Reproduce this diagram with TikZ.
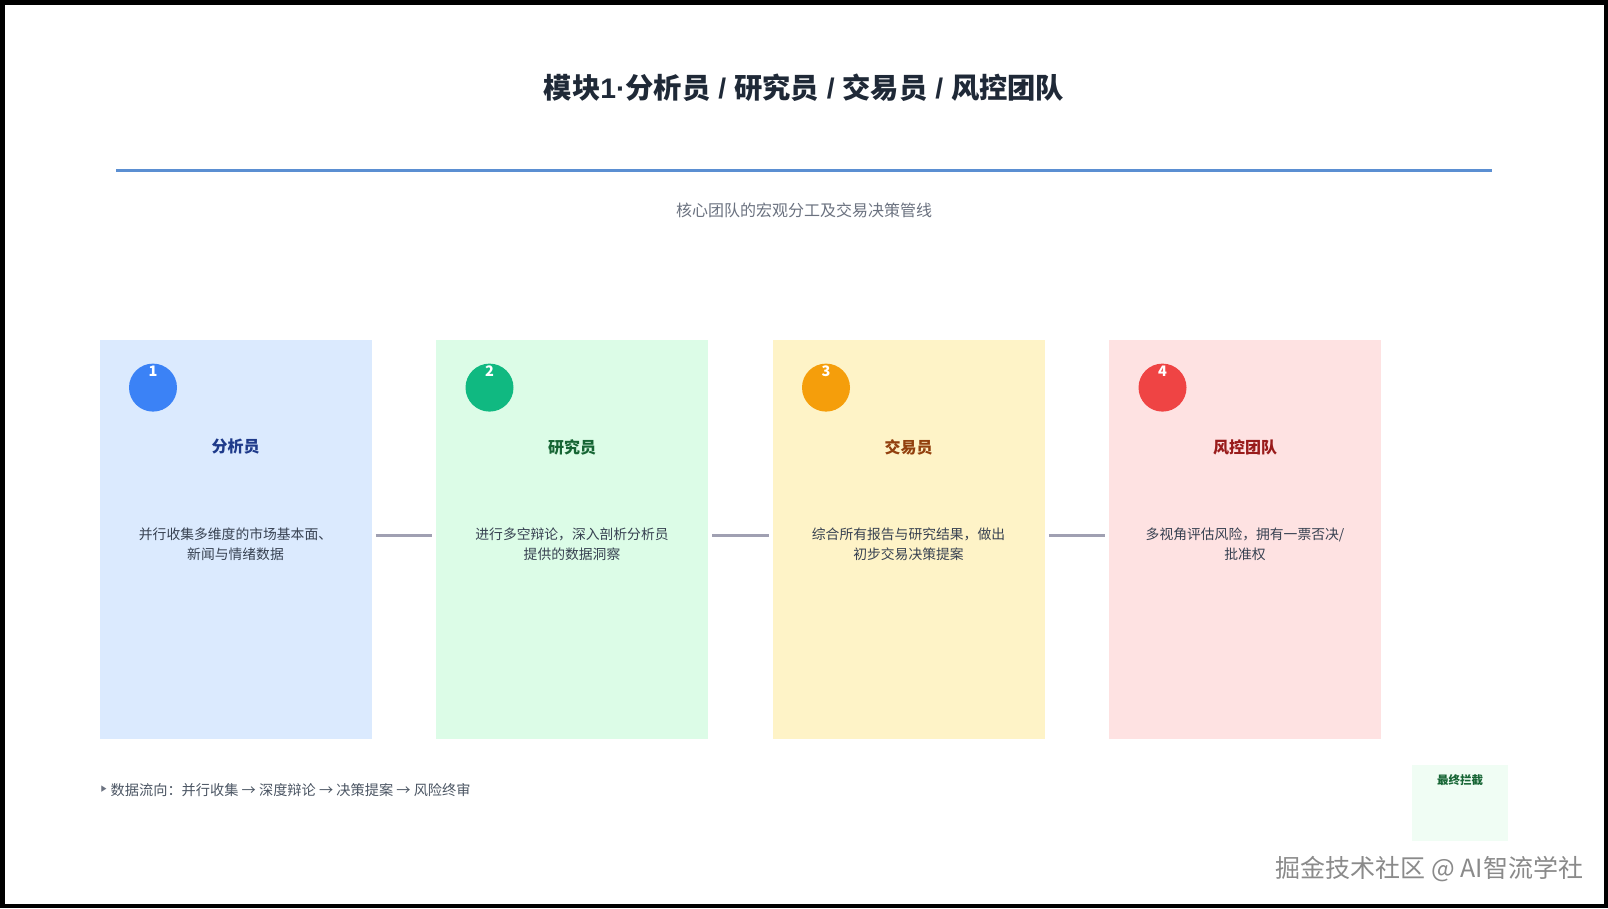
\documentclass[tikz,border=0pt]{standalone}
\usepackage{fontspec}
\setmainfont{Noto Sans CJK SC}
\newfontfamily\symfont{DejaVu Sans}
\newfontfamily\latinfont{Liberation Sans}
\definecolor{titlecol}{HTML}{1F2937}
\definecolor{rulecol}{HTML}{5B8FD2}
\definecolor{subcol}{HTML}{6B7280}
\definecolor{desccol}{HTML}{374151}
\definecolor{conncol}{HTML}{A0A0B2}
\definecolor{cardA}{HTML}{DBEAFE}
\definecolor{cardB}{HTML}{DCFCE7}
\definecolor{cardC}{HTML}{FEF3C7}
\definecolor{cardD}{HTML}{FEE2E2}
\definecolor{dotA}{HTML}{3B82F6}
\definecolor{dotB}{HTML}{10B981}
\definecolor{dotC}{HTML}{F59E0B}
\definecolor{dotD}{HTML}{EF4444}
\definecolor{headA}{HTML}{1E3A8A}
\definecolor{headB}{HTML}{166534}
\definecolor{headC}{HTML}{92400E}
\definecolor{headD}{HTML}{991B1B}
\definecolor{finalbg}{HTML}{F0FDF4}
\definecolor{finaltx}{HTML}{166534}
\definecolor{notecol}{HTML}{4B5563}
\definecolor{markcol}{HTML}{6B7280}
\definecolor{wmcol}{HTML}{8A8A8A}
\newcommand{\lt}[1]{{\latinfont\bfseries #1}}
\begin{document}
\begin{tikzpicture}[x=1pt,y=-1pt,
  card/.style={draw=none, anchor=north west, minimum width=272pt, minimum height=399pt, inner sep=0pt},
  dot/.style={circle, draw=none, minimum size=48pt, inner sep=0pt},
  numtext/.style={text=white, font=\fontsize{14.5}{16}\selectfont\bfseries, inner sep=0pt},
  headtext/.style={font=\fontsize{16}{19}\selectfont\bfseries, inner sep=0pt},
  desctext/.style={text=desccol, font=\fontsize{13.8}{19.5}\selectfont, align=center, inner sep=0pt},
  conn/.style={draw=conncol, line width=3pt},
]
\useasboundingbox (0,0) rectangle (1608,908);
\fill[white] (0,0) rectangle (1608,908);
\draw[line width=4.5pt] (2.25,2.25) rectangle (1605.75,905.75);

\node[text=titlecol, font=\fontsize{28.3}{34}\selectfont\bfseries, inner sep=0pt] (title) at (804,88) {模块\lt{1·}分析员\lt{ / }研究员\lt{ / }交易员\lt{ / }风控团队};
\coordinate (ruleL) at (116,170);
\coordinate (ruleR) at (1492,170);
\draw[rulecol, line width=3pt] (ruleL) -- (ruleR);
\node[text=subcol, font=\fontsize{16}{19}\selectfont, inner sep=0pt] (subtitle) at (804,210) {核心团队的宏观分工及交易决策管线};

% cards
\node[card, fill=cardA] (c1) at (99.5,339.5) {};
\node[card, fill=cardB] (c2) at (436,339.5) {};
\node[card, fill=cardC] (c3) at (772.5,339.5) {};
\node[card, fill=cardD] (c4) at (1109,339.5) {};

\node[dot, fill=dotA] (d1) at (153,387.6) {};
\node[dot, fill=dotB] (d2) at (489.5,387.6) {};
\node[dot, fill=dotC] (d3) at (826,387.6) {};
\node[dot, fill=dotD] (d4) at (1162.5,387.6) {};

\node[numtext] (k1) at (153,371) {1};
\node[numtext] (k2) at (489.5,371) {2};
\node[numtext] (k3) at (826,371) {3};
\node[numtext] (k4) at (1162.5,371) {4};

\node[headtext, text=headA] (h1) at (235.5,447) {分析员};
\node[headtext, text=headB] (h2) at (572,447) {研究员};
\node[headtext, text=headC] (h3) at (908.5,447) {交易员};
\node[headtext, text=headD] (h4) at (1245,447) {风控团队};

\node[desctext] (t1) at (235.5,544) {并行收集多维度的市场基本面、\\新闻与情绪数据};
\node[desctext] (t2) at (572,544) {进行多空辩论，深入剖析分析员\\提供的数据洞察};
\node[desctext] (t3) at (908.5,544) {综合所有报告与研究结果，做出\\初步交易决策提案};
\node[desctext] (t4) at (1245,544) {多视角评估风险，拥有一票否决/\\批准权};

\draw[conn] ([xshift=4pt,yshift=4pt]c1.east) -- ([xshift=-4pt,yshift=4pt]c2.west);
\draw[conn] ([xshift=4pt,yshift=4pt]c2.east) -- ([xshift=-4pt,yshift=4pt]c3.west);
\draw[conn] ([xshift=4pt,yshift=4pt]c3.east) -- ([xshift=-4pt,yshift=4pt]c4.west);

% footnote
\node[inner sep=0pt, text=markcol, font=\symfont\fontsize{13}{13}\selectfont, xscale=0.8] (mark) at (104,789.5) {▸};
\node[anchor=west, inner sep=0pt, text=notecol, font=\fontsize{14.2}{16}\selectfont] (note) at (110.5,790)
  {数据流向：并行收集 → 深度辩论 → 决策提案 → 风险终审};

% final box
\node[draw=none, fill=finalbg, anchor=north west, minimum width=95.5pt, minimum height=76pt, inner sep=0pt] (final) at (1412,765) {};
\node[text=finaltx, font=\fontsize{11.5}{13}\selectfont\bfseries, inner sep=0pt] (finaltext) at (1460,780) {最终拦截};

% watermark
\node[text=wmcol, font=\fontsize{25}{30}\selectfont, inner sep=0pt] (wm) at (1429.5,869) {掘金技术社区 @ AI智流学社};
\end{tikzpicture}
\end{document}
